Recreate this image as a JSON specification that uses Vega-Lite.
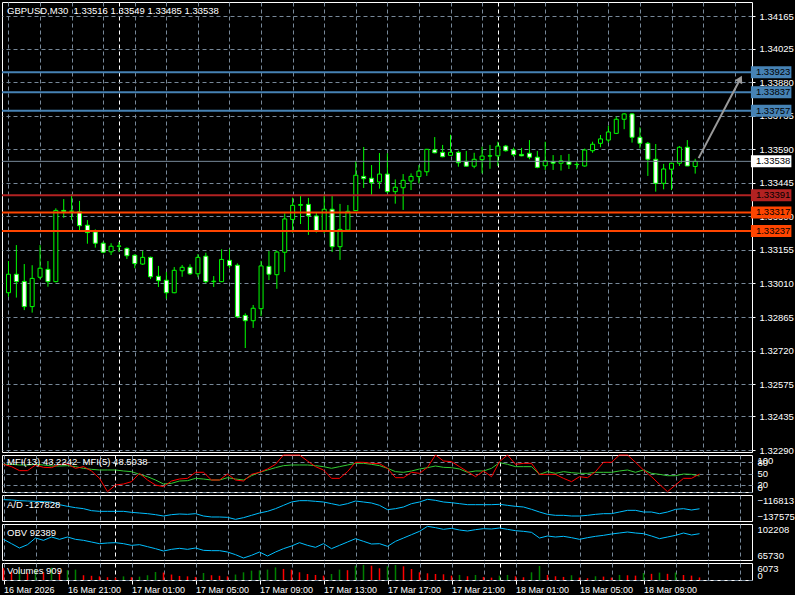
{
 "$schema": "https://vega.github.io/schema/vega-lite/v6.json",
 "background": "black",
 "padding": {"left": 0, "top": 1, "right": 0, "bottom": 0},
 "config": {
  "font": "Liberation Sans",
  "view": {"stroke": "#ffffff", "strokeWidth": 1},
  "axis": {"labelFont": "Liberation Sans", "labelColor": "#ffffff", "labelOverlap": false, "tickCount": 100},
  "title": {"font": "Liberation Sans", "color": "#ffffff", "fontSize": 9.5, "fontWeight": "normal", "anchor": "start", "frame": "group", "dx": 5, "baseline": "alphabetic"}
 },
 "datasets": {
  "bars": [
   {"t":"2026-03-16T17:00:00Z","o":1.32970,"h":1.33107,"l":1.32953,"c":1.33050,"v":4200,"m13":74.8,"m5":74.8,"ad":-120539,"obv":86670},
   {"t":"2026-03-16T17:30:00Z","o":1.33050,"h":1.33176,"l":1.32949,"c":1.33018,"v":2900,"m13":74.8,"m5":68.5,"ad":-120805,"obv":82279},
   {"t":"2026-03-16T18:00:00Z","o":1.33019,"h":1.33094,"l":1.32895,"c":1.32910,"v":3400,"m13":73.0,"m5":57.7,"ad":-121338,"obv":77888},
   {"t":"2026-03-16T18:30:00Z","o":1.32910,"h":1.33089,"l":1.32884,"c":1.33032,"v":2600,"m13":73.0,"m5":57.7,"ad":-121604,"obv":81266},
   {"t":"2026-03-16T19:00:00Z","o":1.33037,"h":1.33176,"l":1.33028,"c":1.33076,"v":3900,"m13":74.8,"m5":73.0,"ad":-121870,"obv":88021},
   {"t":"2026-03-16T19:30:00Z","o":1.33071,"h":1.33107,"l":1.32996,"c":1.33018,"v":2700,"m13":73.0,"m5":66.7,"ad":-122136,"obv":85657},
   {"t":"2026-03-16T20:00:00Z","o":1.33018,"h":1.33335,"l":1.33015,"c":1.33326,"v":4400,"m13":70.3,"m5":65.8,"ad":-122403,"obv":89035},
   {"t":"2026-03-16T20:30:00Z","o":1.33326,"h":1.33375,"l":1.33294,"c":1.33322,"v":3000,"m13":70.3,"m5":74.8,"ad":-124532,"obv":86670},
   {"t":"2026-03-16T21:00:00Z","o":1.33322,"h":1.33396,"l":1.33284,"c":1.33323,"v":3500,"m13":71.2,"m5":75.7,"ad":-125863,"obv":89035},
   {"t":"2026-03-16T21:30:00Z","o":1.33320,"h":1.33367,"l":1.33234,"c":1.33260,"v":3700,"m13":68.5,"m5":64.0,"ad":-126927,"obv":86670},
   {"t":"2026-03-16T22:00:00Z","o":1.33262,"h":1.33284,"l":1.33182,"c":1.33230,"v":1700,"m13":64.0,"m5":68.5,"ad":-127726,"obv":85657},
   {"t":"2026-03-16T22:30:00Z","o":1.33233,"h":1.33244,"l":1.33165,"c":1.33184,"v":1500,"m13":61.3,"m5":56.8,"ad":-129323,"obv":83968},
   {"t":"2026-03-16T23:00:00Z","o":1.33184,"h":1.33191,"l":1.33141,"c":1.33145,"v":1300,"m13":59.5,"m5":36.9,"ad":-129855,"obv":82279},
   {"t":"2026-03-16T23:30:00Z","o":1.33147,"h":1.33184,"l":1.33133,"c":1.33171,"v":1000,"m13":59.5,"m5":0.9,"ad":-129855,"obv":82955},
   {"t":"2026-03-17T00:00:00Z","o":1.33171,"h":1.33189,"l":1.33147,"c":1.33172,"v":800,"m13":59.5,"m5":18.9,"ad":-129855,"obv":83293},
   {"t":"2026-03-17T00:30:00Z","o":1.33162,"h":1.33166,"l":1.33116,"c":1.33130,"v":1300,"m13":56.8,"m5":21.6,"ad":-129855,"obv":82279},
   {"t":"2026-03-17T01:00:00Z","o":1.33132,"h":1.33136,"l":1.33076,"c":1.33096,"v":1000,"m13":55.0,"m5":27.9,"ad":-130654,"obv":80590},
   {"t":"2026-03-17T01:30:00Z","o":1.33094,"h":1.33150,"l":1.33090,"c":1.33123,"v":1200,"m13":47.7,"m5":50.5,"ad":-131186,"obv":81266},
   {"t":"2026-03-17T02:00:00Z","o":1.33123,"h":1.33126,"l":1.33029,"c":1.33039,"v":1700,"m13":41.4,"m5":32.4,"ad":-131718,"obv":79239},
   {"t":"2026-03-17T02:30:00Z","o":1.33041,"h":1.33086,"l":1.32995,"c":1.33022,"v":2850,"m13":32.4,"m5":18.9,"ad":-132517,"obv":77213},
   {"t":"2026-03-17T03:00:00Z","o":1.33024,"h":1.33060,"l":1.32944,"c":1.32970,"v":2650,"m13":21.6,"m5":14.4,"ad":-133582,"obv":74848},
   {"t":"2026-03-17T03:30:00Z","o":1.32970,"h":1.33081,"l":1.32968,"c":1.33067,"v":1950,"m13":23.4,"m5":29.7,"ad":-132517,"obv":76537},
   {"t":"2026-03-17T04:00:00Z","o":1.33065,"h":1.33090,"l":1.33039,"c":1.33080,"v":1450,"m13":29.7,"m5":35.1,"ad":-131985,"obv":77550},
   {"t":"2026-03-17T04:30:00Z","o":1.33080,"h":1.33093,"l":1.33047,"c":1.33052,"v":1300,"m13":30.6,"m5":36.9,"ad":-132251,"obv":76537},
   {"t":"2026-03-17T05:00:00Z","o":1.33052,"h":1.33137,"l":1.33037,"c":1.33123,"v":1100,"m13":36.9,"m5":53.2,"ad":-131718,"obv":77888},
   {"t":"2026-03-17T05:30:00Z","o":1.33128,"h":1.33143,"l":1.33011,"c":1.33018,"v":2500,"m13":35.1,"m5":53.2,"ad":-133582,"obv":75524},
   {"t":"2026-03-17T06:00:00Z","o":1.33018,"h":1.33042,"l":1.32995,"c":1.33020,"v":1700,"m13":32.4,"m5":32.4,"ad":-134380,"obv":75186},
   {"t":"2026-03-17T06:30:00Z","o":1.33018,"h":1.33158,"l":1.33016,"c":1.33114,"v":1500,"m13":32.4,"m5":32.4,"ad":-134380,"obv":75186},
   {"t":"2026-03-17T07:00:00Z","o":1.33110,"h":1.33159,"l":1.33076,"c":1.33087,"v":1300,"m13":38.7,"m5":48.6,"ad":-134646,"obv":73835},
   {"t":"2026-03-17T07:30:00Z","o":1.33089,"h":1.33097,"l":1.32860,"c":1.32866,"v":1950,"m13":35.1,"m5":32.4,"ad":-136243,"obv":71133},
   {"t":"2026-03-17T08:00:00Z","o":1.32872,"h":1.32881,"l":1.32731,"c":1.32849,"v":2750,"m13":32.4,"m5":29.7,"ad":-134912,"obv":67755},
   {"t":"2026-03-17T08:30:00Z","o":1.32849,"h":1.32917,"l":1.32818,"c":1.32903,"v":3350,"m13":44.1,"m5":47.7,"ad":-133049,"obv":70457},
   {"t":"2026-03-17T09:00:00Z","o":1.32901,"h":1.33108,"l":1.32869,"c":1.33086,"v":3450,"m13":53.2,"m5":53.2,"ad":-131186,"obv":73835},
   {"t":"2026-03-17T09:30:00Z","o":1.33084,"h":1.33150,"l":1.33025,"c":1.33050,"v":3700,"m13":59.5,"m5":62.2,"ad":-129855,"obv":69782},
   {"t":"2026-03-17T10:00:00Z","o":1.33048,"h":1.33152,"l":1.32987,"c":1.33146,"v":4500,"m13":65.8,"m5":74.8,"ad":-127726,"obv":73835},
   {"t":"2026-03-17T10:30:00Z","o":1.33145,"h":1.33313,"l":1.33060,"c":1.33289,"v":3950,"m13":71.2,"m5":100,"ad":-125064,"obv":77213},
   {"t":"2026-03-17T11:00:00Z","o":1.33287,"h":1.33381,"l":1.33230,"c":1.33348,"v":3700,"m13":73.0,"m5":100,"ad":-122403,"obv":79915},
   {"t":"2026-03-17T11:30:00Z","o":1.33348,"h":1.33388,"l":1.33267,"c":1.33351,"v":2750,"m13":73.0,"m5":100,"ad":-121338,"obv":83293},
   {"t":"2026-03-17T12:00:00Z","o":1.33352,"h":1.33380,"l":1.33220,"c":1.33303,"v":2150,"m13":73.0,"m5":83.8,"ad":-121338,"obv":80590},
   {"t":"2026-03-17T12:30:00Z","o":1.33302,"h":1.33319,"l":1.33230,"c":1.33238,"v":1800,"m13":71.2,"m5":68.5,"ad":-121870,"obv":78564},
   {"t":"2026-03-17T13:00:00Z","o":1.33237,"h":1.33397,"l":1.33227,"c":1.33331,"v":1550,"m13":68.5,"m5":59.5,"ad":-122403,"obv":82279},
   {"t":"2026-03-17T13:30:00Z","o":1.33331,"h":1.33388,"l":1.33146,"c":1.33169,"v":2150,"m13":64.0,"m5":36.9,"ad":-123733,"obv":77213},
   {"t":"2026-03-17T14:00:00Z","o":1.33169,"h":1.33354,"l":1.33112,"c":1.33244,"v":3700,"m13":68.5,"m5":36.9,"ad":-125064,"obv":80590},
   {"t":"2026-03-17T14:30:00Z","o":1.33241,"h":1.33349,"l":1.33239,"c":1.33322,"v":3500,"m13":73.0,"m5":55.0,"ad":-123733,"obv":83968},
   {"t":"2026-03-17T15:00:00Z","o":1.33325,"h":1.33540,"l":1.33323,"c":1.33478,"v":5100,"m13":77.5,"m5":80.2,"ad":-121604,"obv":87346},
   {"t":"2026-03-17T15:30:00Z","o":1.33473,"h":1.33600,"l":1.33423,"c":1.33463,"v":5400,"m13":77.5,"m5":80.2,"ad":-122403,"obv":84644},
   {"t":"2026-03-17T16:00:00Z","o":1.33465,"h":1.33522,"l":1.33390,"c":1.33446,"v":5100,"m13":74.8,"m5":77.5,"ad":-123201,"obv":81941},
   {"t":"2026-03-17T16:30:00Z","o":1.33449,"h":1.33574,"l":1.33420,"c":1.33483,"v":4180,"m13":71.2,"m5":76.6,"ad":-125064,"obv":82279},
   {"t":"2026-03-17T17:00:00Z","o":1.33483,"h":1.33573,"l":1.33400,"c":1.33407,"v":4890,"m13":64.0,"m5":64.0,"ad":-128524,"obv":79577},
   {"t":"2026-03-17T17:30:00Z","o":1.33407,"h":1.33460,"l":1.33355,"c":1.33426,"v":5355,"m13":55.0,"m5":38.7,"ad":-127726,"obv":84644},
   {"t":"2026-03-17T18:00:00Z","o":1.33424,"h":1.33483,"l":1.33328,"c":1.33456,"v":4890,"m13":53.2,"m5":38.7,"ad":-126395,"obv":88021},
   {"t":"2026-03-17T18:30:00Z","o":1.33453,"h":1.33486,"l":1.33414,"c":1.33473,"v":3930,"m13":56.8,"m5":53.2,"ad":-123733,"obv":91399},
   {"t":"2026-03-17T19:00:00Z","o":1.33472,"h":1.33522,"l":1.33443,"c":1.33496,"v":2750,"m13":62.2,"m5":50.5,"ad":-122403,"obv":94777},
   {"t":"2026-03-17T19:30:00Z","o":1.33493,"h":1.33592,"l":1.33475,"c":1.33590,"v":2390,"m13":65.8,"m5":66.7,"ad":-120273,"obv":99843},
   {"t":"2026-03-17T20:00:00Z","o":1.33588,"h":1.33643,"l":1.33573,"c":1.33575,"v":2150,"m13":70.3,"m5":100,"ad":-121072,"obv":98492},
   {"t":"2026-03-17T20:30:00Z","o":1.33577,"h":1.33609,"l":1.33556,"c":1.33558,"v":2040,"m13":66.7,"m5":83.8,"ad":-122403,"obv":96803},
   {"t":"2026-03-17T21:00:00Z","o":1.33564,"h":1.33653,"l":1.33562,"c":1.33577,"v":1560,"m13":65.8,"m5":82.0,"ad":-122935,"obv":97817},
   {"t":"2026-03-17T21:30:00Z","o":1.33577,"h":1.33584,"l":1.33515,"c":1.33532,"v":1800,"m13":62.2,"m5":68.5,"ad":-123733,"obv":96128},
   {"t":"2026-03-17T22:00:00Z","o":1.33538,"h":1.33583,"l":1.33515,"c":1.33517,"v":1330,"m13":53.2,"m5":55.0,"ad":-124532,"obv":95115},
   {"t":"2026-03-17T22:30:00Z","o":1.33517,"h":1.33575,"l":1.33508,"c":1.33547,"v":1800,"m13":56.8,"m5":41.4,"ad":-124532,"obv":96466},
   {"t":"2026-03-17T23:00:00Z","o":1.33545,"h":1.33601,"l":1.33486,"c":1.33561,"v":1100,"m13":56.8,"m5":56.8,"ad":-124532,"obv":97479},
   {"t":"2026-03-17T23:30:00Z","o":1.33561,"h":1.33609,"l":1.33506,"c":1.33562,"v":860,"m13":64.0,"m5":41.4,"ad":-124532,"obv":97141},
   {"t":"2026-03-18T00:00:00Z","o":1.33562,"h":1.33623,"l":1.33518,"c":1.33604,"v":1560,"m13":79.3,"m5":82.0,"ad":-124266,"obv":98154},
   {"t":"2026-03-18T00:30:00Z","o":1.33604,"h":1.33609,"l":1.33580,"c":1.33584,"v":1800,"m13":74.8,"m5":100,"ad":-125064,"obv":96803},
   {"t":"2026-03-18T01:00:00Z","o":1.33587,"h":1.33597,"l":1.33558,"c":1.33567,"v":1330,"m13":68.5,"m5":74.8,"ad":-125863,"obv":95452},
   {"t":"2026-03-18T01:30:00Z","o":1.33568,"h":1.33596,"l":1.33560,"c":1.33562,"v":980,"m13":68.5,"m5":77.5,"ad":-126395,"obv":94777},
   {"t":"2026-03-18T02:00:00Z","o":1.33573,"h":1.33630,"l":1.33547,"c":1.33556,"v":2750,"m13":68.5,"m5":77.5,"ad":-128258,"obv":93763},
   {"t":"2026-03-18T02:30:00Z","o":1.33556,"h":1.33583,"l":1.33508,"c":1.33512,"v":5000,"m13":47.7,"m5":47.7,"ad":-130388,"obv":88021},
   {"t":"2026-03-18T03:00:00Z","o":1.33519,"h":1.33623,"l":1.33501,"c":1.33540,"v":1800,"m13":55.0,"m5":47.7,"ad":-132251,"obv":90048},
   {"t":"2026-03-18T03:30:00Z","o":1.33536,"h":1.33565,"l":1.33501,"c":1.33530,"v":1330,"m13":50.5,"m5":47.7,"ad":-133049,"obv":89035},
   {"t":"2026-03-18T04:00:00Z","o":1.33530,"h":1.33565,"l":1.33498,"c":1.33540,"v":1100,"m13":55.0,"m5":36.9,"ad":-133049,"obv":89710},
   {"t":"2026-03-18T04:30:00Z","o":1.33536,"h":1.33570,"l":1.33505,"c":1.33525,"v":1690,"m13":52.3,"m5":27.9,"ad":-133582,"obv":88359},
   {"t":"2026-03-18T05:00:00Z","o":1.33525,"h":1.33536,"l":1.33504,"c":1.33524,"v":860,"m13":50.5,"m5":41.4,"ad":-133582,"obv":86670},
   {"t":"2026-03-18T05:30:00Z","o":1.33518,"h":1.33593,"l":1.33515,"c":1.33587,"v":620,"m13":50.5,"m5":38.7,"ad":-133049,"obv":88359},
   {"t":"2026-03-18T06:00:00Z","o":1.33584,"h":1.33623,"l":1.33575,"c":1.33612,"v":1330,"m13":53.2,"m5":55.0,"ad":-132251,"obv":89710},
   {"t":"2026-03-18T06:30:00Z","o":1.33616,"h":1.33652,"l":1.33599,"c":1.33635,"v":1210,"m13":53.2,"m5":80.2,"ad":-131718,"obv":90723},
   {"t":"2026-03-18T07:00:00Z","o":1.33630,"h":1.33692,"l":1.33619,"c":1.33665,"v":860,"m13":53.2,"m5":80.2,"ad":-131718,"obv":92075},
   {"t":"2026-03-18T07:30:00Z","o":1.33659,"h":1.33731,"l":1.33656,"c":1.33720,"v":1800,"m13":56.8,"m5":100,"ad":-130388,"obv":93088},
   {"t":"2026-03-18T08:00:00Z","o":1.33720,"h":1.33746,"l":1.33677,"c":1.33743,"v":1690,"m13":59.5,"m5":100,"ad":-129057,"obv":94101},
   {"t":"2026-03-18T08:30:00Z","o":1.33743,"h":1.33746,"l":1.33619,"c":1.33642,"v":1560,"m13":53.2,"m5":80.2,"ad":-129057,"obv":93088},
   {"t":"2026-03-18T09:00:00Z","o":1.33642,"h":1.33685,"l":1.33594,"c":1.33616,"v":2510,"m13":59.5,"m5":59.5,"ad":-130388,"obv":92412},
   {"t":"2026-03-18T09:30:00Z","o":1.33616,"h":1.33622,"l":1.33475,"c":1.33547,"v":2200,"m13":50.5,"m5":41.4,"ad":-130388,"obv":90048},
   {"t":"2026-03-18T10:00:00Z","o":1.33547,"h":1.33613,"l":1.33407,"c":1.33443,"v":2640,"m13":47.7,"m5":20.7,"ad":-131718,"obv":87346},
   {"t":"2026-03-18T10:30:00Z","o":1.33443,"h":1.33527,"l":1.33417,"c":1.33505,"v":2200,"m13":44.1,"m5":0.9,"ad":-130388,"obv":89035},
   {"t":"2026-03-18T11:00:00Z","o":1.33504,"h":1.33532,"l":1.33414,"c":1.33530,"v":2640,"m13":44.1,"m5":18.9,"ad":-128258,"obv":90723},
   {"t":"2026-03-18T11:30:00Z","o":1.33530,"h":1.33604,"l":1.33518,"c":1.33599,"v":1790,"m13":48.6,"m5":36.9,"ad":-127726,"obv":93088},
   {"t":"2026-03-18T12:00:00Z","o":1.33599,"h":1.33630,"l":1.33518,"c":1.33518,"v":1560,"m13":47.7,"m5":36.9,"ad":-128791,"obv":91061},
   {"t":"2026-03-18T12:30:00Z","o":1.33516,"h":1.33549,"l":1.33485,"c":1.33538,"v":909,"m13":43.2242,"m5":48.5038,"ad":-127828,"obv":92389}
  ],
  "levels": [
   {"price":1.33923,"type":"target"},
   {"price":1.33837,"type":"target"},
   {"price":1.33757,"type":"target"},
   {"price":1.33538,"type":"bid"},
   {"price":1.33391,"type":"support"},
   {"price":1.33317,"type":"stop"},
   {"price":1.33237,"type":"stop"}
  ],
  "arrow": [
   {"t":"2026-03-18T12:43:00Z","price":1.33552,"part":"tail"},
   {"t":"2026-03-18T15:21:00Z","price":1.33894,"part":"tip"}
  ]
 },
 "spacing": 3,
 "bounds": "flush",
 "resolve": {"scale": {"x": "independent", "y": "independent"}},
 "vconcat": [
  {
   "width": 750, "height": 450,
   "title": {"text": "GBPUSD,M30\u00a0 1.33516 1.33549 1.33485 1.33538", "offset": -13},
   "layer": [
    {"data": {"name": "bars"},
     "mark": {"type": "rule", "color": "#00ff00", "strokeWidth": 1, "clip": true},
     "encoding": {
      "x": {"field": "t", "type": "temporal", "scale": {"type": "utc", "domain": [1773680062500, 1773848812500]},
            "axis": {"values": [1773680400000,1773687600000,1773694800000,1773702000000,1773705600000,1773709200000,1773716400000,1773723600000,1773730800000,1773738000000,1773745200000,1773752400000,1773759600000,1773766800000,1773774000000,1773781200000,1773788400000,1773792000000,1773795600000,1773802800000,1773810000000,1773817200000,1773824400000,1773831600000,1773838800000,1773846000000],
                     "tickCount": 100, "labels": false, "ticks": false, "domain": false, "grid": true, "gridDash": [4,3], "title": null,
                     "gridColor": {"condition": {"test": "utchours(datum.value) == 0", "value": "#ffffff"}, "value": "#778899"}}},
      "y": {"field": "l", "type": "quantitative", "scale": {"domain": [1.322815, 1.342269], "nice": false, "zero": false},
            "axis": {"orient": "right", "title": null, "values": [1.32290,1.32435,1.32575,1.32720,1.32865,1.33010,1.33155,1.33300,1.33445,1.33590,1.33735,1.33880,1.34025,1.34165],
                     "tickCount": 100, "format": ".5f", "grid": true, "gridDash": [4,3], "gridColor": "#778899", "domain": false,
                     "ticks": true, "tickColor": "#ffffff", "tickSize": 3, "labelPadding": 4, "labelFontSize": 9.5,
                     "labelColor": "#ffffff", "labelOverlap": false}},
      "y2": {"field": "h"}
     }
    },
    {"data": {"name": "bars"},
     "mark": {"type": "bar", "size": 4, "stroke": "#00ff00", "strokeWidth": 1, "clip": true},
     "encoding": {
      "x": {"field": "t", "type": "temporal"},
      "y": {"field": "o", "type": "quantitative"},
      "y2": {"field": "c"},
      "fill": {"condition": {"test": "datum.c < datum.o", "value": "#ffffff"}, "value": "#000000"}
     }
    },
    {"data": {"name": "levels"},
     "mark": {"type": "rule"},
     "encoding": {
      "y": {"field": "price", "type": "quantitative"},
      "color": {"field": "type", "type": "nominal", "legend": null,
                "scale": {"domain": ["target","bid","support","stop"], "range": ["#4682b4","#778899","#b22222","#ff4500"]}},
      "strokeWidth": {"condition": {"test": "datum.type == 'bid'", "value": 1}, "value": 2}
     }
    },
    {"data": {"name": "arrow"},
     "mark": {"type": "line", "color": "#9a9a9a", "strokeWidth": 2},
     "encoding": {
      "x": {"field": "t", "type": "temporal"},
      "y": {"field": "price", "type": "quantitative"}
     }
    },
    {"data": {"name": "arrow"},
     "transform": [{"filter": "datum.part == 'tip'"}],
     "mark": {"type": "point", "shape": "triangle-up", "filled": true, "color": "#9a9a9a", "size": 70, "opacity": 1},
     "encoding": {
      "x": {"field": "t", "type": "temporal"},
      "y": {"field": "price", "type": "quantitative"},
      "angle": {"value": 28}
     }
    },
    {"data": {"name": "levels"},
     "mark": {"type": "rect", "yOffset": -6, "y2Offset": 6},
     "encoding": {
      "x": {"datum": {"year": 2026, "month": 3, "date": 18, "hours": 16, "minutes": 1, "seconds": 52, "utc": true}, "type": "temporal"},
      "x2": {"datum": {"year": 2026, "month": 3, "date": 18, "hours": 18, "minutes": 35, "seconds": 37, "utc": true}},
      "y": {"field": "price", "type": "quantitative"},
      "y2": {"field": "price"},
      "fill": {"field": "type", "type": "nominal", "legend": null,
               "scale": {"domain": ["target","bid","support","stop"], "range": ["#4682b4","#ffffff","#b22222","#ff4500"]}}
     }
    },
    {"data": {"name": "levels"},
     "mark": {"type": "text", "align": "left", "baseline": "middle", "dx": 5, "fontSize": 9.5, "color": "#000000"},
     "encoding": {
      "x": {"datum": {"year": 2026, "month": 3, "date": 18, "hours": 16, "minutes": 1, "seconds": 52, "utc": true}, "type": "temporal"},
      "y": {"field": "price", "type": "quantitative"},
      "text": {"field": "price", "type": "quantitative", "format": ".5f"}
     }
    }
   ]
  },
  {
   "width": 750, "height": 37,
   "title": {"text": "MFI(13) 43.2242\u00a0 MFI(5) 48.5038", "offset": -13},
   "data": {"name": "bars"},
   "layer": [
    {"mark": {"type": "line", "color": "#33cc33", "strokeWidth": 1},
     "encoding": {
      "x": {"field": "t", "type": "temporal", "scale": {"type": "utc", "domain": [1773680062500, 1773848812500]},
            "axis": {"values": [1773680400000,1773687600000,1773694800000,1773702000000,1773705600000,1773709200000,1773716400000,1773723600000,1773730800000,1773738000000,1773745200000,1773752400000,1773759600000,1773766800000,1773774000000,1773781200000,1773788400000,1773792000000,1773795600000,1773802800000,1773810000000,1773817200000,1773824400000,1773831600000,1773838800000,1773846000000],
                     "tickCount": 100, "labels": false, "ticks": false, "domain": false, "grid": true, "gridDash": [4,3], "title": null,
                     "gridColor": {"condition": {"test": "utchours(datum.value) == 0", "value": "#ffffff"}, "value": "#778899"}}},
      "y": {"field": "m13", "type": "quantitative", "scale": {"domain": [0, 100], "nice": false},
            "axis": {"orient": "right", "title": null, "values": [0,20,50,80,100], "tickCount": 100, "format": "d", "grid": true, "gridDash": [4,3], "gridColor": "#778899",
                     "gridOpacity": {"condition": {"test": "datum.value == 100", "value": 0}, "value": 1},
                     "domain": false, "ticks": false, "labelFlush": true, "labelPadding": 5, "labelFontSize": 9.5, "labelColor": "#ffffff", "labelOverlap": false}}
     }
    },
    {"mark": {"type": "line", "color": "#ff0000", "strokeWidth": 1},
     "encoding": {
      "x": {"field": "t", "type": "temporal"},
      "y": {"field": "m5", "type": "quantitative"}
     }
    }
   ]
  },
  {
   "width": 750, "height": 26,
   "title": {"text": "A/D -127828", "offset": -14},
   "data": {"name": "bars"},
   "mark": {"type": "line", "color": "#00bfff", "strokeWidth": 1},
   "encoding": {
    "x": {"field": "t", "type": "temporal", "scale": {"type": "utc", "domain": [1773680062500, 1773848812500]},
          "axis": {"values": [1773680400000,1773687600000,1773694800000,1773702000000,1773705600000,1773709200000,1773716400000,1773723600000,1773730800000,1773738000000,1773745200000,1773752400000,1773759600000,1773766800000,1773774000000,1773781200000,1773788400000,1773792000000,1773795600000,1773802800000,1773810000000,1773817200000,1773824400000,1773831600000,1773838800000,1773846000000],
                   "tickCount": 100, "labels": false, "ticks": false, "domain": false, "grid": true, "gridDash": [4,3], "title": null,
                   "gridColor": {"condition": {"test": "utchours(datum.value) == 0", "value": "#ffffff"}, "value": "#778899"}}},
    "y": {"field": "ad", "type": "quantitative", "scale": {"domain": [-137575, -116813], "nice": false, "zero": false},
          "axis": {"orient": "right", "title": null, "values": [-137575, -116813], "tickCount": 100, "format": "d", "grid": false, "domain": false, "ticks": false,
                   "labelFlush": true, "labelPadding": 5, "labelFontSize": 9.5, "labelColor": "#ffffff", "labelOverlap": false}}
   }
  },
  {
   "width": 750, "height": 36,
   "title": {"text": "OBV 92389", "offset": -13},
   "data": {"name": "bars"},
   "mark": {"type": "line", "color": "#00bfff", "strokeWidth": 1},
   "encoding": {
    "x": {"field": "t", "type": "temporal", "scale": {"type": "utc", "domain": [1773680062500, 1773848812500]},
          "axis": {"values": [1773680400000,1773687600000,1773694800000,1773702000000,1773705600000,1773709200000,1773716400000,1773723600000,1773730800000,1773738000000,1773745200000,1773752400000,1773759600000,1773766800000,1773774000000,1773781200000,1773788400000,1773792000000,1773795600000,1773802800000,1773810000000,1773817200000,1773824400000,1773831600000,1773838800000,1773846000000],
                   "tickCount": 100, "labels": false, "ticks": false, "domain": false, "grid": true, "gridDash": [4,3], "title": null,
                   "gridColor": {"condition": {"test": "utchours(datum.value) == 0", "value": "#ffffff"}, "value": "#778899"}}},
    "y": {"field": "obv", "type": "quantitative", "scale": {"domain": [65730, 102208], "nice": false, "zero": false},
          "axis": {"orient": "right", "title": null, "values": [65730, 102208], "tickCount": 100, "format": "d", "grid": false, "domain": false, "ticks": false,
                   "labelFlush": true, "labelPadding": 5, "labelFontSize": 9.5, "labelColor": "#ffffff", "labelOverlap": false}}
   }
  },
  {
   "width": 750, "height": 17,
   "title": {"text": "Volumes 909", "offset": -12},
   "data": {"name": "bars"},
   "transform": [{"window": [{"op": "lag", "field": "v", "as": "pv"}], "sort": [{"field": "t", "order": "ascending"}]}],
   "mark": {"type": "rule", "strokeWidth": 1.5},
   "encoding": {
    "x": {"field": "t", "type": "temporal", "scale": {"type": "utc", "domain": [1773680062500, 1773848812500]},
          "axis": {"values": [1773680400000,1773687600000,1773694800000,1773702000000,1773705600000,1773709200000,1773716400000,1773723600000,1773730800000,1773738000000,1773745200000,1773752400000,1773759600000,1773766800000,1773774000000,1773781200000,1773788400000,1773792000000,1773795600000,1773802800000,1773810000000,1773817200000,1773824400000,1773831600000,1773838800000,1773846000000],
                   "tickCount": 100, "title": null, "grid": true, "gridDash": [4,3],
                   "gridColor": {"condition": {"test": "utchours(datum.value) == 0", "value": "#ffffff"}, "value": "#778899"},
                   "domain": false, "ticks": true, "tickColor": "#ffffff", "tickSize": 4,
                   "tickOpacity": {"condition": {"test": "utchours(datum.value) % 4 == 1 && time(datum.value) <= 1773824400000", "value": 1}, "value": 0},
                   "labelExpr": "time(datum.value) == 1773680400000 ? '16 Mar 2026' : ((utchours(datum.value) % 4 == 1 && time(datum.value) <= 1773824400000) ? utcFormat(datum.value, '%d %b %H:%M') : '')",
                   "labelAlign": "left", "labelBaseline": "top", "labelPadding": 1, "labelFontSize": 9, "labelColor": "#ffffff",
                   "labelFlush": false, "labelOverlap": false, "labelBound": false}},
    "y": {"field": "v", "type": "quantitative", "scale": {"domain": [0, 6073], "nice": false},
          "axis": {"orient": "right", "title": null, "values": [0, 6073], "tickCount": 100, "format": "d", "grid": true, "gridDash": [4,3], "gridColor": "#778899",
                   "gridOpacity": {"condition": {"test": "datum.value == 6073", "value": 0}, "value": 1},
                   "domain": false, "ticks": false, "labelFlush": true, "labelPadding": 5, "labelFontSize": 9.5, "labelColor": "#ffffff", "labelOverlap": false}},
    "y2": {"datum": 0},
    "color": {"condition": {"test": "datum.pv != null && datum.v > datum.pv", "value": "#008000"}, "value": "#ff0000"}
   }
  }
 ]
}
